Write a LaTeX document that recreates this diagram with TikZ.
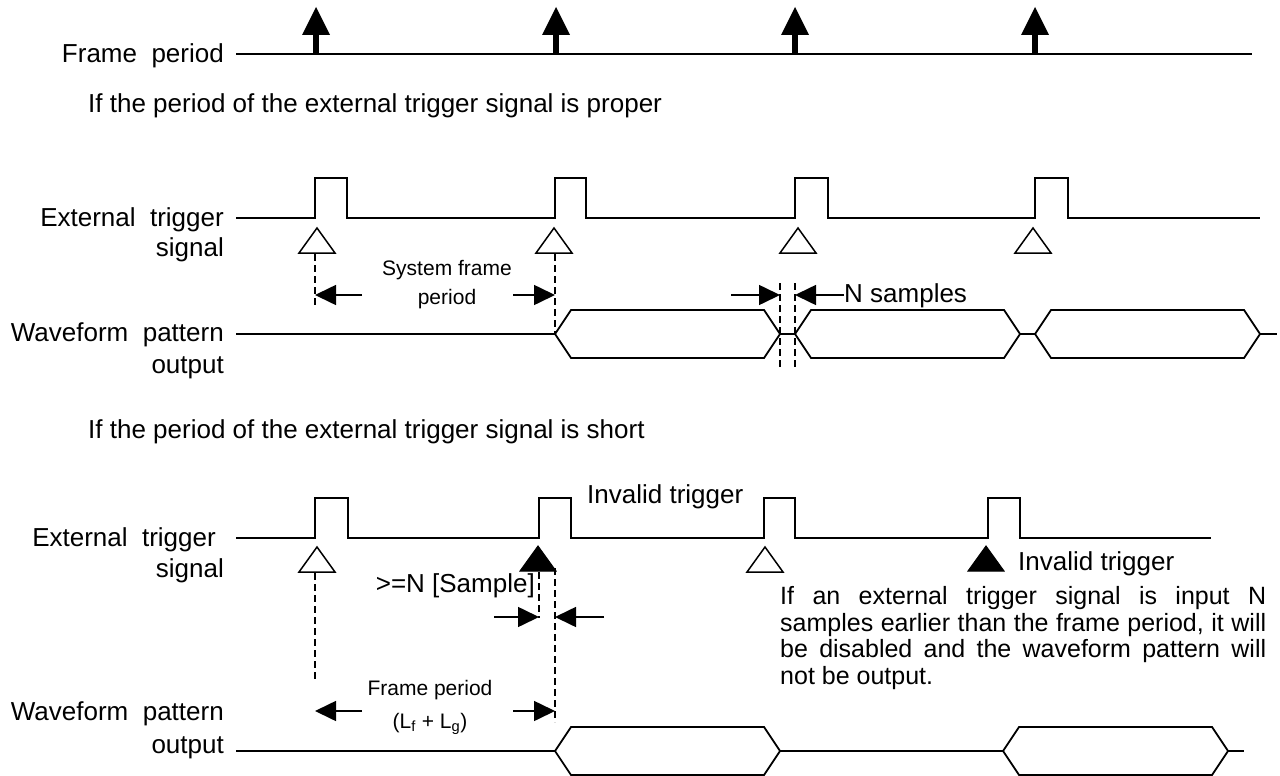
\documentclass[tikz,border=0pt]{standalone}
\usepackage{fontspec}
\setmainfont{Liberation Sans}
\usetikzlibrary{arrows.meta}
\begin{document}
\begin{tikzpicture}[x=1pt,y=-1pt,
  sig/.style={line width=1.8pt, line join=miter},
  dline/.style={line width=1.3pt, dash pattern=on 7pt off 4pt},
  dimarrow/.style={line width=1.6pt, -{Triangle[length=21pt,width=20pt]}},
  big/.style={font=\fontsize{26}{30}\selectfont, inner sep=0pt},
  para/.style={font=\fontsize{25}{27}\selectfont, inner sep=0pt, anchor=base west},
  small/.style={font=\fontsize{21}{25}\selectfont, inner sep=0pt, anchor=base},
  otri/.style={draw, line width=1.5pt, fill=white, line join=miter},
  ftri/.style={fill=black, draw, line width=1pt, line join=miter},
]
\fill[white] (0,0) rectangle (1280,776);
\useasboundingbox (0,0) rectangle (1280,776);

% ---------- Frame period ----------
\node[big, anchor=base east] (lfp) at (224,63) {Frame~~period};
\coordinate (fpA) at (236,54);
\coordinate (fpB) at (1252,54);
\draw[sig] (fpA) -- (fpB);
\foreach \x in {316,556,795,1035}{
  \fill (\x-3,54) rectangle (\x+3,34);
  \fill (\x-14,35) -- (\x+14,35) -- (\x,7) -- cycle;
}

% ---------- proper ----------
\node[big, anchor=base west] (h1) at (88,113) {If the period of the external trigger signal is proper};

\node[big, anchor=base east] (ext1) at (224,226) {External~~trigger};
\node[big, anchor=base east] (sig1) at (224,256) {signal};
\draw[sig] (236,218) -- (315,218) -- (315,178) -- (347,178) -- (347,218)
  -- (555,218) -- (555,178) -- (586,178) -- (586,218)
  -- (795,218) -- (795,178) -- (828,178) -- (828,218)
  -- (1035,218) -- (1035,178) -- (1068,178) -- (1068,218) -- (1260,218);
\foreach \x in {317,554,798,1033}{
  \draw[otri] (\x-18,253) -- (\x,228) -- (\x+18,253) -- cycle;
}
\draw[dline] (315,254) -- (315,307);
\draw[dline] (555,254) -- (555,334);
\draw[dline] (780,283) -- (780,370);
\draw[dline] (795,283) -- (795,370);

\node[small] (sf1) at (447,275) {System frame};
\node[small] (sf2) at (447,304) {period};
\coordinate (a1) at (362,295); \coordinate (a1e) at (315,295);
\coordinate (a2) at (513,295); \coordinate (a2e) at (555,295);
\draw[dimarrow] (a1) -- (a1e);
\draw[dimarrow] (a2) -- (a2e);
\coordinate (n1) at (731,295); \coordinate (n1e) at (780,295);
\coordinate (n2) at (844,295); \coordinate (n2e) at (795,295);
\draw[dimarrow] (n1) -- (n1e);
\draw[dimarrow] (n2) -- (n2e);
\node[big, anchor=base west] (ns) at (844,302) {N samples};

\node[big, anchor=base east] (wf1) at (224,341) {Waveform~~pattern};
\node[big, anchor=base east] (wf1b) at (224,373) {output};
\draw[sig] (236,334) -- (555,334);
\foreach \a in {555,795,1035}{
  \draw[sig] (\a,334) -- (\a+16,310) -- (\a+209,310) -- (\a+225,334) -- (\a+209,358) -- (\a+16,358) -- cycle;
}
\draw[sig] (780,334) -- (795,334);
\draw[sig] (1020,334) -- (1035,334);
\draw[sig] (1260,334) -- (1277,334);

% ---------- short ----------
\node[big, anchor=base west] (h2) at (88,438) {If the period of the external trigger signal is short};

\node[big, anchor=base east] (ext2) at (216,546) {External~~trigger};
\node[big, anchor=base east] (sig2) at (224,577) {signal};
\draw[sig] (236,538) -- (315,538) -- (315,498) -- (348,498) -- (348,538)
  -- (539,538) -- (539,498) -- (571,498) -- (571,538)
  -- (764,538) -- (764,498) -- (795,498) -- (795,538)
  -- (988,538) -- (988,498) -- (1020,498) -- (1020,538) -- (1211,538);
\draw[otri] (299,572) -- (317,547) -- (335,572) -- cycle;
\draw[ftri] (520,571) -- (538,546) -- (556,571) -- cycle;
\draw[otri] (747,572) -- (765,547) -- (783,572) -- cycle;
\draw[ftri] (968,571) -- (986,546) -- (1004,571) -- cycle;

\node[big, anchor=base west] (inv1) at (587,503) {Invalid trigger};
\node[big, anchor=base west] (inv2) at (1018,570) {Invalid trigger};
\node[big, anchor=base east] (geN) at (535,592) {>=N [Sample]};

\draw[dline] (315,573) -- (315,680);
\draw[dline] (539,572) -- (539,618);
\draw[dline] (555,568) -- (555,722);
\coordinate (b1) at (494,617); \coordinate (b1e) at (539,617);
\coordinate (b2) at (604,617); \coordinate (b2e) at (555,617);
\draw[dimarrow] (b1) -- (b1e);
\draw[dimarrow] (b2) -- (b2e);

\node[para] (p1) at (780,604) {\makebox[486pt][s]{If an external trigger signal is input N}};
\node[para] (p2) at (780,631) {\makebox[486pt][s]{samples earlier than the frame period, it will}};
\node[para] (p3) at (780,657) {\makebox[486pt][s]{be disabled and the waveform pattern will}};
\node[para] (p4) at (780,684) {not be output.};

\node[small] (fp1) at (430,695) {Frame period};
\node[small] (fp2) at (430,728) {(L\textsubscript{f} + L\textsubscript{g})};
\coordinate (c1) at (362,711); \coordinate (c1e) at (315,711);
\coordinate (c2) at (513,711); \coordinate (c2e) at (555,711);
\draw[dimarrow] (c1) -- (c1e);
\draw[dimarrow] (c2) -- (c2e);

\node[big, anchor=base east] (wf2) at (224,720) {Waveform~~pattern};
\node[big, anchor=base east] (wf2b) at (224,753) {output};
\draw[sig] (236,751) -- (555,751);
\foreach \a in {555,1003}{
  \draw[sig] (\a,751) -- (\a+16,727) -- (\a+209,727) -- (\a+225,751) -- (\a+209,775) -- (\a+16,775) -- cycle;
}
\draw[sig] (780,751) -- (1003,751);
\draw[sig] (1228,751) -- (1244,751);
\end{tikzpicture}
\end{document}
